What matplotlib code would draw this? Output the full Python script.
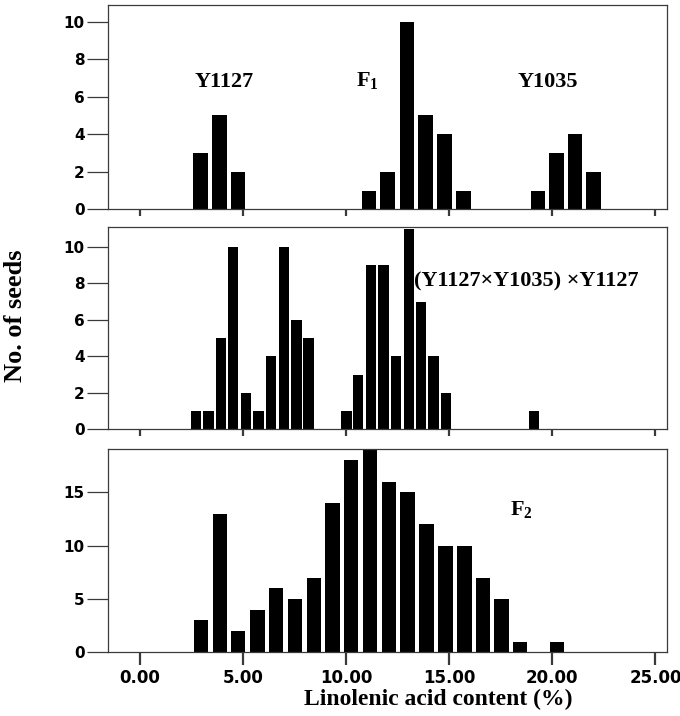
import matplotlib

matplotlib.use("Agg")
import matplotlib.pyplot as plt

# bin centres (linolenic acid %) and seed counts
parent_x = [2.93, 3.86, 4.76, 11.10, 12.00, 12.94, 13.86, 14.78, 15.70, 19.30, 20.20, 21.10, 22.00]
parent_n = [3, 5, 2, 1, 2, 10, 5, 4, 1, 1, 3, 4, 2]

backcross_x = [2.73, 3.33, 3.92, 4.53, 5.14, 5.75, 6.37, 6.98, 7.59, 8.18,
               10.02, 10.59, 11.20, 11.82, 12.41, 13.04, 13.63, 14.24, 14.86, 19.12]
backcross_n = [1, 1, 5, 10, 2, 1, 4, 10, 6, 5, 1, 3, 9, 9, 4, 11, 7, 4, 2, 1]

f2_x = [2.96, 3.89, 4.77, 5.70, 6.61, 7.53, 8.43, 9.33, 10.25, 11.17,
        12.09, 12.97, 13.89, 14.81, 15.73, 16.63, 17.54, 18.44, 20.22]
f2_n = [3, 13, 2, 4, 6, 5, 7, 14, 18, 19, 16, 15, 12, 10, 10, 7, 5, 1, 1]

x_ticks = [0, 5, 10, 15, 20, 25]
x_ticklabels = ["0.00", "5.00", "10.00", "15.00", "20.00", "25.00"]

SERIF = "Liberation Serif"
TICKFONT = "DejaVu Sans"
FRAME = "#3a3a3a"


def style_axes(ax, yticks, ylim, show_xlabels, xtick_len):
    ax.set_xlim(-1.53, 25.56)
    ax.set_ylim(*ylim)
    ax.set_yticks(yticks)
    ax.set_xticks(x_ticks)
    if show_xlabels:
        ax.set_xticklabels(x_ticklabels, fontfamily=TICKFONT, fontweight="bold", fontsize=12)
    else:
        ax.set_xticklabels([])
    for lab in ax.get_yticklabels():
        lab.set_fontfamily(TICKFONT)
        lab.set_fontweight("bold")
        lab.set_fontsize(11)
    for sp in ax.spines.values():
        sp.set_color(FRAME)
        sp.set_linewidth(0.9)
    ax.tick_params(axis="y", direction="out", length=15, width=0.9, color=FRAME, pad=2)
    ax.tick_params(axis="x", direction="out", length=xtick_len, width=1.6, color=FRAME, pad=3)


def main() -> None:
    fig = plt.figure(figsize=(6.8, 7.16), dpi=100)
    left, width = 0.1593, 0.8216
    ax1 = fig.add_axes([left, 0.7077, width, 0.2858])
    ax2 = fig.add_axes([left, 0.4004, width, 0.2830])
    ax3 = fig.add_axes([left, 0.0890, width, 0.2835])

    ax1.bar(parent_x, parent_n, width=0.70, color="black", linewidth=0)
    ax2.bar(backcross_x, backcross_n, width=0.50, color="black", linewidth=0)
    ax3.bar(f2_x, f2_n, width=0.70, color="black", linewidth=0)

    style_axes(ax1, [0, 2, 4, 6, 8, 10], (0, 10.9), False, 5)
    style_axes(ax2, [0, 2, 4, 6, 8, 10], (0, 11.1), False, 5)
    style_axes(ax3, [0, 5, 10, 15], (0, 19.05), True, 9)

    lab = dict(fontfamily=SERIF, fontweight="bold", fontsize=16, ha="center", va="center")
    ax1.text(4.1, 6.8, "Y1127", **lab)
    ax1.text(11.05, 6.8, r"F$_\mathregular{1}$", **lab)
    ax1.text(19.8, 6.8, "Y1035", **lab)
    ax2.text(13.3, 8.1, "(Y1127×Y1035) ×Y1127", fontfamily=SERIF, fontweight="bold",
             fontsize=16, ha="left", va="center")
    ax3.text(18.5, 13.3, r"F$_\mathregular{2}$", **lab)

    ax3.set_xlabel("Linolenic acid content (%)", fontfamily=SERIF, fontweight="bold",
                   fontsize=17)
    ax3.xaxis.set_label_coords(0.59, -0.178)
    fig.text(0.023, 0.559, "No. of seeds", rotation=90, ha="center", va="center",
             fontfamily=SERIF, fontweight="bold", fontsize=19)

    fig.savefig("out.png", dpi=100)


if __name__ == "__main__":
    main()
